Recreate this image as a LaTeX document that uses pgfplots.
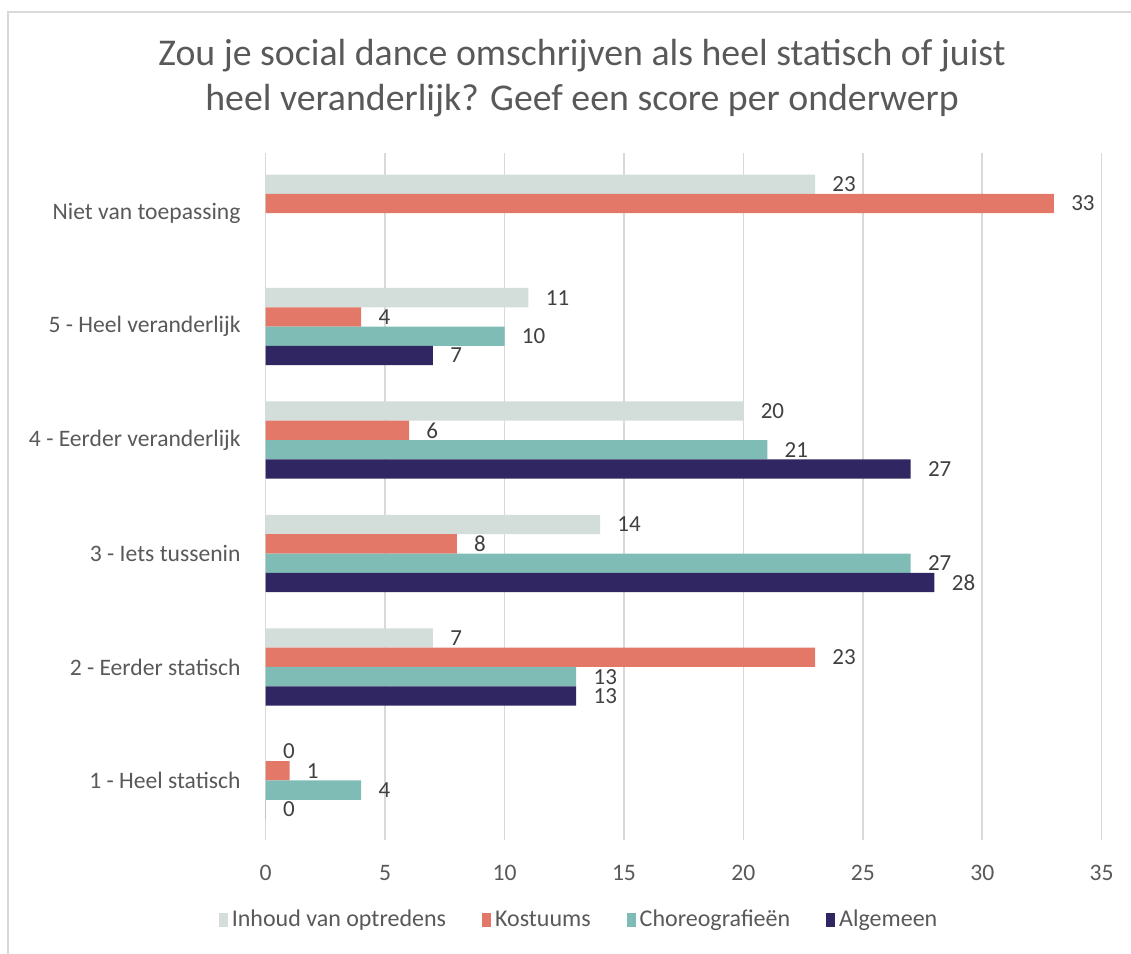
\documentclass[border=0pt]{standalone}
\usepackage{fontspec}
\setmainfont{Carlito}
\usepackage{pgfplots}
\pgfplotsset{compat=1.18}
\definecolor{cInh}{HTML}{D3DDD9}
\definecolor{cKos}{HTML}{E47868}
\definecolor{cCho}{HTML}{7FBCB6}
\definecolor{cAlg}{HTML}{302662}
\definecolor{txt}{HTML}{595959}
\definecolor{lbl}{HTML}{404040}
\definecolor{gridc}{HTML}{D9D9D9}
\begin{document}
\begin{tikzpicture}
\useasboundingbox (0pt,0pt) rectangle (565.5pt,-477pt);
\draw[gridc, line width=1pt] (4pt,-6pt) rectangle (600pt,-520pt);
\node[txt, font=\fontsize{18.9}{22.5}\selectfont, align=center] at (291pt,-39pt) {Zou je social dance omschrijven als heel statisch of juist\\heel veranderlijk? Geef een score per onderwerp};
\begin{axis}[
 at={(132.85pt,-420pt)}, anchor=south west,
 width=418pt, height=343.5pt, scale only axis,
 xbar, bar width=9.65pt,
 xmin=0, xmax=35, xtick={0,5,...,35},
 ymin=-0.525, ymax=5.53,
 ytick={0,...,5},
 yticklabels={1 - Heel statisch, 2 - Eerder statisch, 3 - Iets tussenin, 4 - Eerder veranderlijk, 5 - Heel veranderlijk, Niet van toepassing},
 xmajorgrids, grid style={gridc, line width=0.8pt},
 axis line style={draw=none}, major tick length=0pt,
 tick label style={txt, font=\fontsize{11.8}{14}\selectfont},
 /pgf/number format/assume math mode=true,
 xticklabel style={inner sep=0pt, yshift=-12.5pt},
 yticklabel style={inner sep=0pt, xshift=-12.4pt},
 point meta=x,
 nodes near coords,
 nodes near coords style={anchor=west, inner sep=0pt, xshift=8.5pt, text=lbl, font=\fontsize{11.5}{13}\selectfont},
 legend columns=4,
 legend style={draw=none, at={(0.376,-0.1164)}, anchor=center, font=\fontsize{12}{14}\selectfont, text=txt, /tikz/every even column/.append style={column sep=16pt}},
 legend image code/.code={\fill[#1] (0pt,-3.4pt) rectangle (4.5pt,3.4pt);},
]
\addplot[fill=cInh, draw=none, bar shift=14.48pt] coordinates {(0,0) (7,1) (14,2) (20,3) (11,4) (23,5)};
\addlegendentry{Inhoud van optredens}
\addplot[fill=cKos, draw=none, bar shift=4.83pt] coordinates {(1,0) (23,1) (8,2) (6,3) (4,4) (33,5)};
\addlegendentry{Kostuums}
\addplot[fill=cCho, draw=none, bar shift=-4.83pt] coordinates {(4,0) (13,1) (27,2) (21,3) (10,4)};
\addlegendentry{Choreografieën}
\addplot[fill=cAlg, draw=none, bar shift=-14.48pt] coordinates {(0,0) (13,1) (28,2) (27,3) (7,4)};
\addlegendentry{Algemeen}
\end{axis}
\end{tikzpicture}
\end{document}
